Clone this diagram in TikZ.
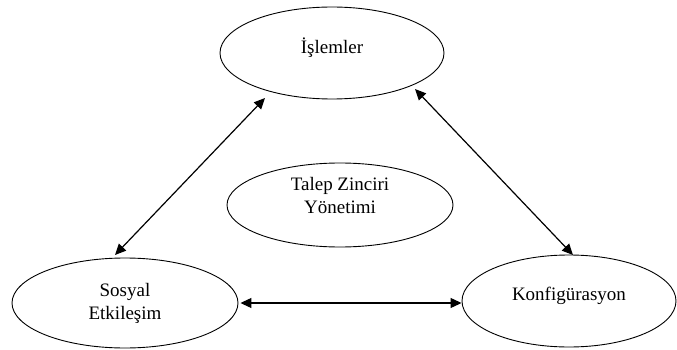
\documentclass[tikz,border=0pt]{standalone}
\usepackage{fontspec}
\setmainfont{Liberation Serif}
\usetikzlibrary{arrows.meta,shapes.geometric}
\begin{document}
\begin{tikzpicture}[x=1pt,y=-1pt,
  oval/.style={ellipse,draw,line width=0.9pt,inner sep=0pt,align=center,
    font=\fontsize{19}{23}\selectfont},
  link/.style={line width=1.2pt,{Triangle[length=11pt,width=10pt]}-{Triangle[length=11pt,width=10pt]}}]
\useasboundingbox (0,0) rectangle (677,350);
% the four areas
\node[oval,minimum width=224pt,minimum height=92pt] (isl) at (332,53) {İşlemler\\[-8pt]};
\node[oval,minimum width=226pt,minimum height=90pt] (sos) at (125,303) {Sosyal\\Etkileşim};
\node[oval,minimum width=214pt,minimum height=92pt] (konf) at (569,301) {Konfigürasyon\\[-8pt]};
\node[oval,minimum width=226pt,minimum height=84pt] (tzy) at (340,205) {Talep Zinciri\\Yönetimi\\[-4pt]};
% arrow end points just outside the ovals
\coordinate (isl-l) at (265,98);
\coordinate (isl-r) at (415,89);
\coordinate (sos-t) at (115,255);
\coordinate (konf-t) at (573,255);
% two-way links
\draw[link] (sos-t) -- (isl-l);
\draw[link] (isl-r) -- (konf-t);
\draw[link] ([xshift=2pt]sos.east) -- (sos.east -| konf.west);
\end{tikzpicture}
\end{document}
